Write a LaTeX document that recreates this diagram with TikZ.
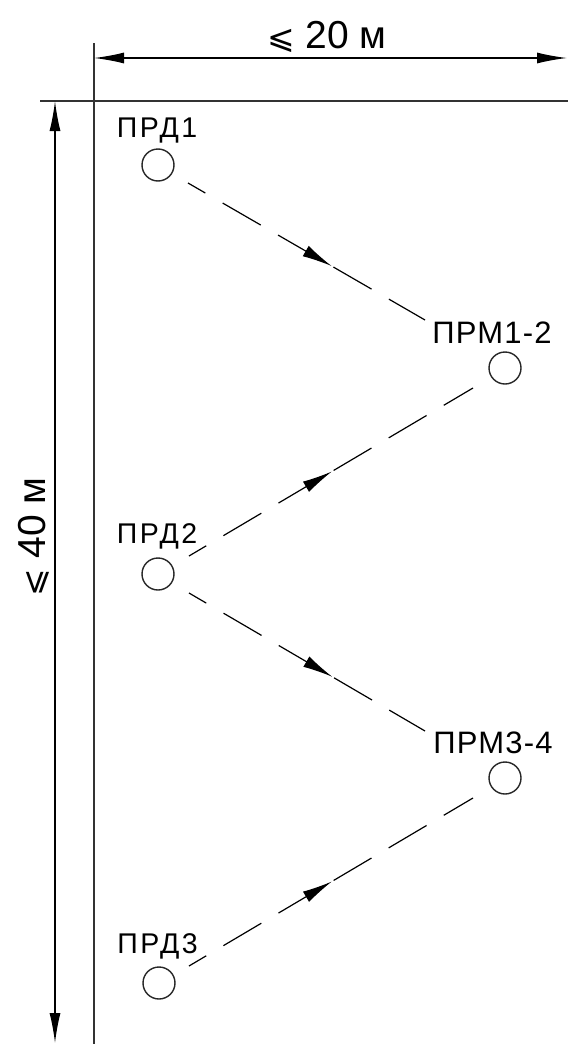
\documentclass[tikz,border=0pt]{standalone}
\usepackage{fontspec}
\setmainfont{Liberation Sans}
\newfontfamily\dejavu{DejaVu Sans}
\newfontfamily\spaced{Liberation Sans}[LetterSpace=9]
\newfontfamily\spacedm{Liberation Sans}[LetterSpace=4]
\usetikzlibrary{arrows.meta,decorations.markings}
\tikzset{
  frame/.style={line width=1.8pt, draw=black!80},
  dimline/.style={line width=1.4pt, draw=black, {Latex[length=30pt,width=11pt]}-{Latex[length=30pt,width=11pt]}},
  station/.style={circle, draw=black!85, line width=1.4pt, minimum size=32pt, inner sep=0pt},
  lbl/.style={inner sep=0pt, anchor=base, font=\spaced\fontsize{28.5}{30}\selectfont},
  lblm/.style={inner sep=0pt, anchor=base, font=\spacedm\fontsize{31}{33}\selectfont},
  dimlbl/.style={inner sep=0pt, anchor=base, font=\fontsize{39}{42}\selectfont},
  le/.style={font=\dejavu\fontsize{33}{35}\selectfont},
  link/.style={line width=1.2pt, draw=black, dash pattern=on 44pt off 20pt, dash phase=24pt,
    postaction={decorate}, decoration={markings, mark=at position 166pt with {\arrow{Latex[length=30pt,width=12pt]}}}}
}
\begin{document}
\begin{tikzpicture}[x=1pt,y=-1pt]
\useasboundingbox (0,0) rectangle (568,1044);
% frame lines
\coordinate (vtop) at (94,43);
\coordinate (vbot) at (94,1044);
\coordinate (hl) at (40,101);
\coordinate (hr) at (568,101);
\draw[frame] (vtop) -- (vbot);
\draw[frame] (hl) -- (hr);
% dimensions
\coordinate (dhl) at (94,58);
\coordinate (dhr) at (567,58);
\coordinate (dvt) at (55,101);
\coordinate (dvb) at (55,1043);
\draw[dimline] (dhl) -- (dhr);
\draw[dimline] (dvt) -- (dvb);
\node[dimlbl] (w) at (327,48) {{\dejavu\fontsize{33}{35}\selectfont ⩽} 20 м};
\node[dimlbl, rotate=90] (h) at (45,537) {{\dejavu\fontsize{33}{35}\selectfont ⩽} 40 м};
% stations
\node[station] (c1) at (158,165) {};
\node[station] (c2) at (505,368) {};
\node[station] (c3) at (158,574) {};
\node[station] (c4) at (505,778) {};
\node[station] (c5) at (159,983) {};
\node[lbl] (l1) at (157,137) {ПРД1};
\node[lblm] (l2) at (492,343) {ПРМ1-2};
\node[lbl] (l3) at (157,543) {ПРД2};
\node[lblm] (l4) at (493,753) {ПРМ3-4};
\node[lbl] (l5) at (157.5,953) {ПРД3};
% links
\coordinate (a1) at (188,183); \coordinate (b1) at (425,320);
\coordinate (a2) at (189,556); \coordinate (b2) at (473,388);
\coordinate (a3) at (189,593); \coordinate (b3) at (425,731);
\coordinate (a4) at (189,966); \coordinate (b4) at (473,798);
\draw[link] (a1) -- (b1);
\draw[link] (a2) -- (b2);
\draw[link] (a3) -- (b3);
\draw[link] (a4) -- (b4);
\end{tikzpicture}
\end{document}
